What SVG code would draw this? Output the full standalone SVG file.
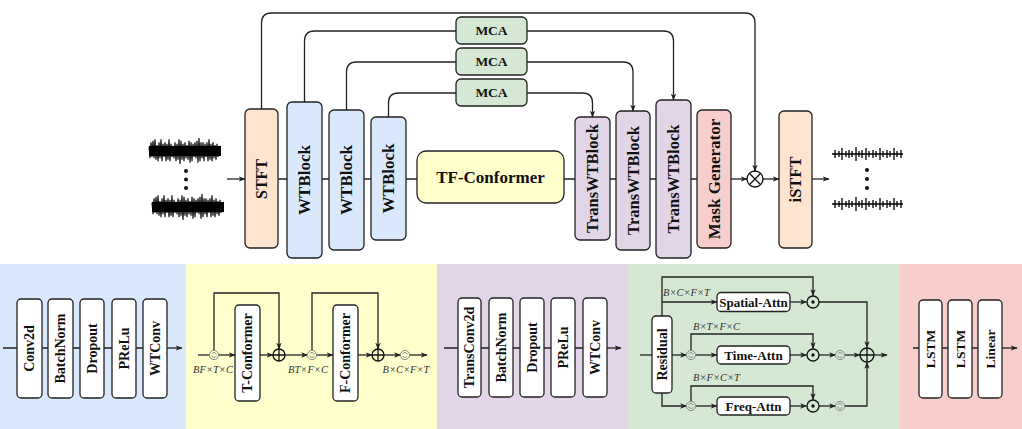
<svg xmlns="http://www.w3.org/2000/svg" width="1022" height="429" viewBox="0 0 1022 429">
<defs>
<style>
.box{stroke:#222;stroke-width:1.3}
.wb{fill:#fff;stroke:#222;stroke-width:1.3}
.ln{fill:none;stroke:#222;stroke-width:1.3}
.ar{fill:none;stroke:#222;stroke-width:1.3;marker-end:url(#ah)}
.lb{font-family:"Liberation Serif","Times New Roman",serif;font-weight:bold;fill:#111;text-anchor:middle;dominant-baseline:central}
.dim{font-family:"Liberation Serif","Times New Roman",serif;font-style:italic;font-size:10.5px;fill:#333}
.sw{fill:none;stroke:#8a8a8a;stroke-width:1}
.op{fill:none;stroke:#111;stroke-width:1.3}
</style>
<marker id="ah" viewBox="0 0 10 10" refX="9" refY="5" markerWidth="7" markerHeight="7" orient="auto" markerUnits="userSpaceOnUse"><path d="M0,1.2L10,5L0,8.8L2.5,5Z" fill="#222"/></marker>
<filter id="soft" x="-5%" y="-40%" width="110%" height="180%"><feGaussianBlur stdDeviation="0.7"/></filter>
<g id="wavIn" filter="url(#soft)">
<g transform="translate(0,151) scale(1,1.45) translate(0,-151)">
<rect x="149" y="147.5" width="72" height="7" fill="#000"/>
<path fill="none" stroke="#000" stroke-width="1.1" d="M149,148L150,156L151,145L152,155L153,144L154,156L155,143L156,157L157,147L158,158L159,145L160,156L161,143L162,158L163,146L164,155L165,145L166,158L167,146L168,157L169,143L170,158L171,146L172,155L173,148L174,156L175,145L176,158L177,146L178,157L179,143L180,160L181,144L182,157L183,146L184,158L185,145L186,156L187,147L188,157L189,144L190,159L191,145L192,158L193,146L194,155L195,145L196,156L197,144L198,159L199,142L200,158L201,145L202,156L203,145L204,158L205,146L206,155L207,145L208,158L209,143L210,157L211,146L212,158L213,145L214,156L215,147L216,157L217,146L218,155L219,148L220,153"/>
</g>
</g>
<g id="wavOut" filter="url(#soft)">
<path fill="none" stroke="#000" stroke-width="1.6" d="M832,154H903"/>
<path fill="none" stroke="#000" stroke-width="1.3" d="M835,150V158M839,151V157M842,148V160M846,151V157M849,150V158M852,151V157M856,147V161M859,151V157M862,150V158M866,148V160M869,151V157M873,150V158M876,151V157M880,148V160M883,151V157M887,150V158M890,151V157M894,148V160M897,151V157M901,150V158"/>
</g>
<g id="swap"><circle r="4.6" class="sw"/><path class="sw" d="M-2.3,-1.2A2.5,2.5 0 0 1 2.3,-0.6M2.3,1.2A2.5,2.5 0 0 1 -2.3,0.6"/></g>
<g id="odot"><circle r="6" fill="#fff" class="op"/><circle r="1.7" fill="#111"/></g>
</defs>
<rect width="1022" height="429" fill="#fff"/>

<!-- bottom panels -->
<g id="panels">
<rect x="0" y="264" width="186" height="165" fill="#dae8fc"/>
<rect x="186" y="264" width="251" height="165" fill="#ffffcc"/>
<rect x="437" y="264" width="191" height="165" fill="#e1d5e7"/>
<rect x="628" y="264" width="272" height="165" fill="#d5e8d4"/>
<rect x="900" y="264" width="122" height="165" fill="#f8cecc"/>
</g>

<!-- top waveforms -->
<g id="input-wave">
<use href="#wavIn"/>
<use href="#wavIn" transform="translate(3,56)"/>
<circle cx="186" cy="171" r="2" fill="#111"/><circle cx="186" cy="179.5" r="2" fill="#111"/><circle cx="186" cy="188" r="2" fill="#111"/>
</g>
<g id="output-wave">
<use href="#wavOut"/>
<use href="#wavOut" transform="translate(0,50)"/>
<circle cx="867" cy="170" r="2" fill="#111"/><circle cx="867" cy="179" r="2" fill="#111"/><circle cx="867" cy="188" r="2" fill="#111"/>
</g>

<!-- connectors top -->
<g id="connectors-top">
<path class="ar" d="M227,179H245"/>
<path class="ln" d="M278,179H287M322,179H329M364,179H371M406,179H417M564,179H575M610,179H616M650,179H656M691,179H697"/>
<path class="ar" d="M731,179H747"/>
<path class="ar" d="M763,179H779"/>
<path class="ar" d="M812,179H829"/>
<path class="ar" d="M261.5,109V23Q261.5,13 271.5,13H745Q755,13 755,23V171"/>
<path class="ln" d="M304.5,102V41Q304.5,31 314.5,31H456"/>
<path class="ar" d="M527,31H663.5Q673.5,31 673.5,41V100"/>
<path class="ln" d="M346.5,110V72Q346.5,62 356.5,62H456"/>
<path class="ar" d="M527,62H623Q633,62 633,72V111"/>
<path class="ln" d="M388.5,117V103Q388.5,93 398.5,93H456"/>
<path class="ar" d="M527,93H582.5Q592.5,93 592.5,103V117"/>
</g>

<!-- top nodes -->
<g id="stft"><rect x="245" y="109" width="33" height="139" rx="5" class="box" fill="#fde4cf"/><text class="lb" font-size="16" transform="translate(261.5,179) rotate(-90)">STFT</text></g>
<g id="wtblock1"><rect x="287" y="102" width="35" height="156" rx="5" class="box" fill="#dae8fc"/><text class="lb" font-size="17" transform="translate(304.5,180) rotate(-90)">WTBlock</text></g>
<g id="wtblock2"><rect x="329" y="110" width="35" height="140" rx="5" class="box" fill="#dae8fc"/><text class="lb" font-size="17" transform="translate(346.5,180) rotate(-90)">WTBlock</text></g>
<g id="wtblock3"><rect x="371" y="117" width="35" height="123" rx="5" class="box" fill="#dae8fc"/><text class="lb" font-size="17" transform="translate(388.5,178.5) rotate(-90)">WTBlock</text></g>
<g id="tfconformer"><rect x="417" y="151" width="147" height="52" rx="9" class="box" fill="#ffffcc"/><text class="lb" font-size="17" x="490.5" y="177">TF-Conformer</text></g>
<g id="mca1"><rect x="456" y="17" width="71" height="27" rx="5" class="box" fill="#d5e8d4"/><text class="lb" font-size="13.5" x="491.5" y="30.5">MCA</text></g>
<g id="mca2"><rect x="456" y="48" width="71" height="27" rx="5" class="box" fill="#d5e8d4"/><text class="lb" font-size="13.5" x="491.5" y="61.5">MCA</text></g>
<g id="mca3"><rect x="456" y="79" width="71" height="27" rx="5" class="box" fill="#d5e8d4"/><text class="lb" font-size="13.5" x="491.5" y="92.5">MCA</text></g>
<g id="transwt1"><rect x="575" y="117" width="35" height="123" rx="5" class="box" fill="#e1d5e7"/><text class="lb" font-size="16.5" transform="translate(592.5,178.5) rotate(-90)">TransWTBlock</text></g>
<g id="transwt2"><rect x="616" y="111" width="34" height="139" rx="5" class="box" fill="#e1d5e7"/><text class="lb" font-size="16.5" transform="translate(633,180.5) rotate(-90)">TransWTBlock</text></g>
<g id="transwt3"><rect x="656" y="100" width="35" height="158" rx="5" class="box" fill="#e1d5e7"/><text class="lb" font-size="16.5" transform="translate(673.5,179) rotate(-90)">TransWTBlock</text></g>
<g id="maskgen"><rect x="697" y="110" width="34" height="138" rx="5" class="box" fill="#f8cecc"/><text class="lb" font-size="17" transform="translate(714,179) rotate(-90)">Mask Generator</text></g>
<g id="otimes"><circle cx="755" cy="179" r="8" fill="#fff" class="op"/><path class="op" d="M749.3,173.3L760.7,184.7M760.7,173.3L749.3,184.7"/></g>
<g id="istft"><rect x="779" y="111" width="33" height="137" rx="5" class="box" fill="#fde4cf"/><text class="lb" font-size="16.5" transform="translate(795.5,179.5) rotate(-90)">iSTFT</text></g>

<!-- bottom blue: WTBlock detail -->
<g id="connectors-blue">
<path class="ln" d="M3,348H17M42,348H48M73,348H80M104,348H112M136,348H143"/>
<path class="ar" d="M167,348H182"/>
</g>
<g id="b-conv2d"><rect x="17" y="299" width="25" height="99" rx="4" class="wb"/><text class="lb" font-size="14" transform="translate(29.5,348.5) rotate(-90)">Conv2d</text></g>
<g id="b-batchnorm"><rect x="48" y="299" width="25" height="99" rx="4" class="wb"/><text class="lb" font-size="14" transform="translate(60.5,348.5) rotate(-90)">BatchNorm</text></g>
<g id="b-dropout"><rect x="80" y="299" width="24" height="99" rx="4" class="wb"/><text class="lb" font-size="14" transform="translate(92,348.5) rotate(-90)">Dropout</text></g>
<g id="b-prelu"><rect x="112" y="299" width="24" height="99" rx="4" class="wb"/><text class="lb" font-size="14" transform="translate(124,348.5) rotate(-90)">PReLu</text></g>
<g id="b-wtconv"><rect x="143" y="299" width="24" height="99" rx="4" class="wb"/><text class="lb" font-size="14" transform="translate(155,348.5) rotate(-90)">WTConv</text></g>

<!-- bottom yellow: TF-Conformer detail -->
<g id="connectors-yellow">
<path class="ln" d="M198,355H209.5"/>
<path class="ar" d="M218.5,355H235"/>
<path class="ar" d="M260,355H273"/>
<path class="ar" d="M214,350.5V293H279V349"/>
<path class="ar" d="M285,355H307.5"/>
<path class="ar" d="M316.5,355H333"/>
<path class="ar" d="M358,355H372"/>
<path class="ar" d="M312,350.5V293H378V349"/>
<path class="ar" d="M384,355H400.5"/>
<path class="ar" d="M409.5,355H427"/>
</g>
<g id="y-swap1"><use href="#swap" x="214" y="355"/></g>
<g id="y-tconf"><rect x="235" y="305" width="25" height="96" rx="4" class="wb"/><text class="lb" font-size="14" transform="translate(247.5,353) rotate(-90)">T-Conformer</text></g>
<g id="y-plus1"><circle cx="279" cy="355" r="6" fill="#fff" class="op"/><path class="op" d="M273,355H285M279,349V361"/></g>
<g id="y-swap2"><use href="#swap" x="312" y="355"/></g>
<g id="y-fconf"><rect x="333" y="305" width="25" height="96" rx="4" class="wb"/><text class="lb" font-size="14" transform="translate(345.5,353) rotate(-90)">F-Conformer</text></g>
<g id="y-plus2"><circle cx="378" cy="355" r="6" fill="#fff" class="op"/><path class="op" d="M372,355H384M378,349V361"/></g>
<g id="y-swap3"><use href="#swap" x="405" y="355"/></g>
<g id="y-labels">
<text class="dim" x="213" y="373" text-anchor="middle">BF×T×C</text>
<text class="dim" x="308" y="373" text-anchor="middle">BT×F×C</text>
<text class="dim" x="406" y="373" text-anchor="middle">B×C×F×T</text>
</g>

<!-- bottom purple: TransWTBlock detail -->
<g id="connectors-purple">
<path class="ln" d="M444,348H458M481,348H489M513,348H520M544,348H551M575,348H583"/>
<path class="ar" d="M607,348H621"/>
</g>
<g id="p-transconv"><rect x="458" y="298" width="23" height="99" rx="4" class="wb"/><text class="lb" font-size="14" transform="translate(469.5,347.5) rotate(-90)">TransConv2d</text></g>
<g id="p-batchnorm"><rect x="489" y="298" width="24" height="99" rx="4" class="wb"/><text class="lb" font-size="14" transform="translate(501,347.5) rotate(-90)">BatchNorm</text></g>
<g id="p-dropout"><rect x="520" y="298" width="24" height="99" rx="4" class="wb"/><text class="lb" font-size="14" transform="translate(532,347.5) rotate(-90)">Dropout</text></g>
<g id="p-prelu"><rect x="551" y="298" width="24" height="99" rx="4" class="wb"/><text class="lb" font-size="14" transform="translate(563,347.5) rotate(-90)">PReLu</text></g>
<g id="p-wtconv"><rect x="583" y="298" width="24" height="99" rx="4" class="wb"/><text class="lb" font-size="14" transform="translate(595,347.5) rotate(-90)">WTConv</text></g>

<!-- bottom green: MCA detail -->
<g id="connectors-green">
<path class="ln" d="M640,355H652"/>
<path class="ar" d="M662,316V277H813V295.5"/>
<path class="ar" d="M662,302H717"/>
<path class="ar" d="M790,302H806.5"/>
<path class="ar" d="M819,302H867V347.5"/>
<path class="ar" d="M672,355H686.5"/>
<path class="ar" d="M695.5,355H717"/>
<path class="ar" d="M691,350.5V334H813V348.5"/>
<path class="ar" d="M790,355H806.5"/>
<path class="ar" d="M819,355H835.5"/>
<path class="ar" d="M844.5,355H860"/>
<path class="ar" d="M874,355H887"/>
<path class="ar" d="M662,393V406H686.5"/>
<path class="ar" d="M695.5,406H717"/>
<path class="ar" d="M691,401.5V386H813V399.5"/>
<path class="ar" d="M790,406H806.5"/>
<path class="ar" d="M819,406H835.5"/>
<path class="ar" d="M844.5,406H867V362.5"/>
</g>
<g id="g-residual"><rect x="652" y="316" width="20" height="77" rx="4" class="wb"/><text class="lb" font-size="14" transform="translate(662,354.5) rotate(-90)">Residual</text></g>
<g id="g-spatial"><rect x="717" y="292.5" width="73" height="19" rx="4" class="wb"/><text class="lb" font-size="13" x="753.5" y="302">Spatial-Attn</text></g>
<g id="g-time"><rect x="717" y="346" width="73" height="18" rx="4" class="wb"/><text class="lb" font-size="13" x="753.5" y="355">Time-Attn</text></g>
<g id="g-freq"><rect x="717" y="397" width="73" height="18" rx="4" class="wb"/><text class="lb" font-size="13" x="753.5" y="406">Freq-Attn</text></g>
<g id="g-odot1"><use href="#odot" x="813" y="302"/></g>
<g id="g-odot2"><use href="#odot" x="813" y="355"/></g>
<g id="g-odot3"><use href="#odot" x="813" y="406"/></g>
<g id="g-swaps"><use href="#swap" x="691" y="355"/><use href="#swap" x="840" y="355"/><use href="#swap" x="691" y="406"/><use href="#swap" x="840" y="406"/></g>
<g id="g-plus"><circle cx="867" cy="355" r="7" fill="#fff" class="op"/><path class="op" d="M860,355H874M867,348V362"/></g>
<g id="g-labels">
<text class="dim" x="663" y="296">B×C×F×T</text>
<text class="dim" x="693" y="330">B×T×F×C</text>
<text class="dim" x="693" y="381">B×F×C×T</text>
</g>

<!-- bottom red: Mask Generator detail -->
<g id="connectors-red">
<path class="ln" d="M913,348H919M942,348H948M972,348H978"/>
<path class="ar" d="M1002,348H1017"/>
</g>
<g id="r-lstm1"><rect x="919" y="300" width="23" height="98" rx="4" class="wb"/><text class="lb" font-size="13.5" transform="translate(930.5,349) rotate(-90)">LSTM</text></g>
<g id="r-lstm2"><rect x="948" y="300" width="24" height="98" rx="4" class="wb"/><text class="lb" font-size="13.5" transform="translate(960,349) rotate(-90)">LSTM</text></g>
<g id="r-linear"><rect x="978" y="300" width="24" height="98" rx="4" class="wb"/><text class="lb" font-size="13.5" transform="translate(990,349) rotate(-90)">Linear</text></g>
</svg>
